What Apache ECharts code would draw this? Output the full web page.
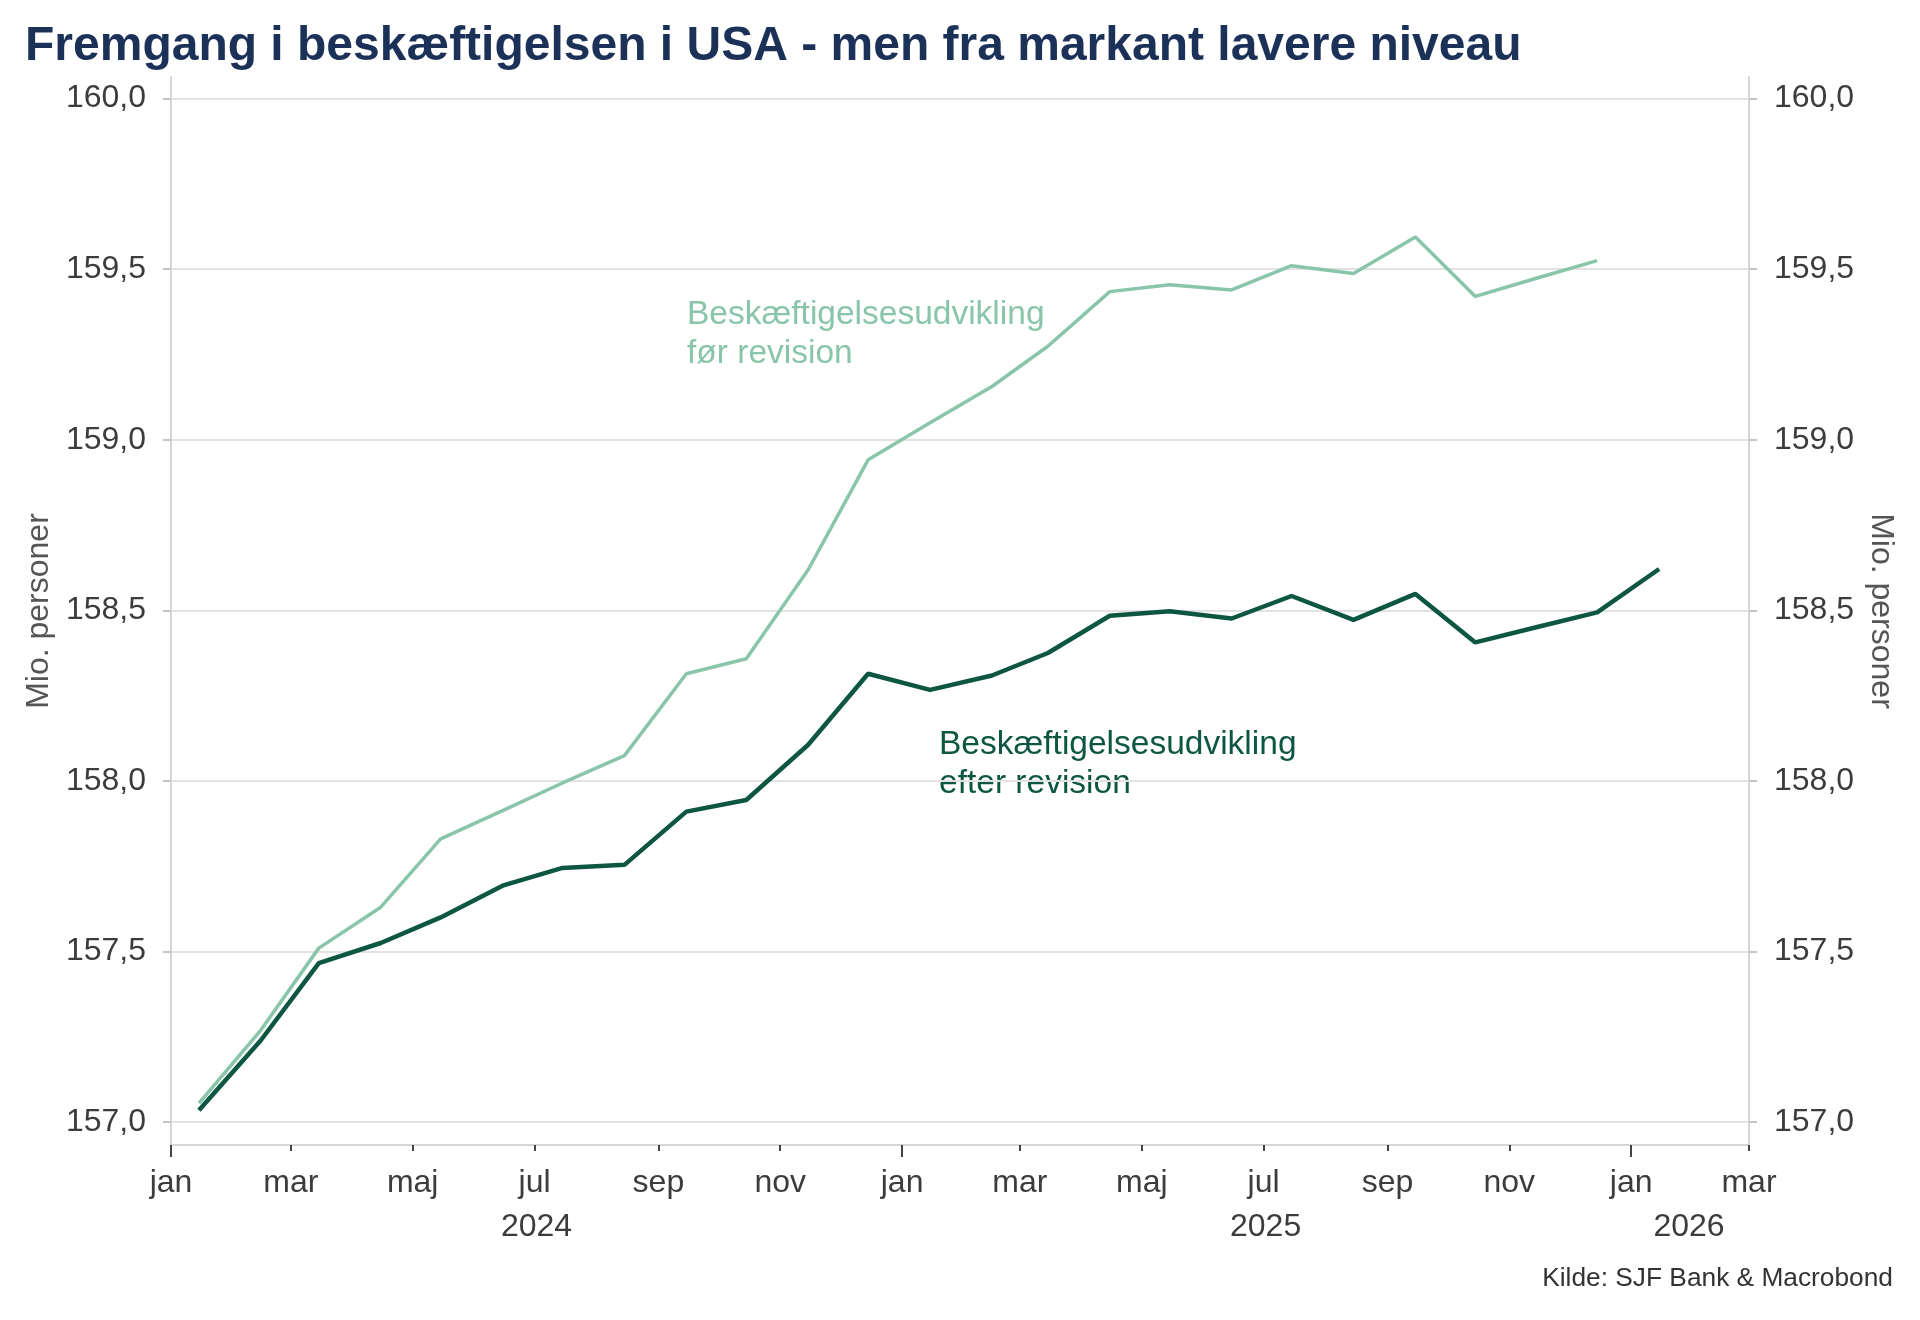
<!DOCTYPE html>
<html>
<head>
<meta charset="utf-8">
<script src="https://cdn.jsdelivr.net/npm/echarts@6/dist/echarts.min.js"></script>
<style>
  html, body { margin: 0; padding: 0; background: #fff; }
  #chart { width: 1920px; height: 1320px; }
</style>
</head>
<body>
<div id="chart"></div>
<script>
// monthly observations, plotted mid-month
const months = [
    '2024-01', '2024-02', '2024-03', '2024-04', '2024-05', '2024-06',
    '2024-07', '2024-08', '2024-09', '2024-10', '2024-11', '2024-12',
    '2025-01', '2025-02', '2025-03', '2025-04', '2025-05', '2025-06',
    '2025-07', '2025-08', '2025-09', '2025-10', '2025-11', '2025-12',
    '2026-01'
];

// Beskæftigelse før revision (mio. personer), Jan 2024 - Dec 2025
const beforeRevision = [
    157.056, 157.27, 157.51, 157.63, 157.83, 157.913,
    157.994, 158.074, 158.314, 158.358, 158.619, 158.941,
    159.05, 159.156, 159.274, 159.434, 159.454, 159.439,
    159.51, 159.487, 159.594, 159.42, 159.474, 159.525
];

// Beskæftigelse efter revision (mio. personer), Jan 2024 - Jan 2026
const afterRevision = [
    157.035, 157.24, 157.466, 157.525, 157.60, 157.693,
    157.745, 157.754, 157.91, 157.944, 158.106, 158.314,
    158.267, 158.309, 158.375, 158.484, 158.497, 158.476,
    158.542, 158.472, 158.548, 158.406, 158.451, 158.494,
    158.621
];

const yTicks = [157, 157.5, 158, 158.5, 159, 159.5, 160];
const monthTicks = [
    '2024-01-01', '2024-03-01', '2024-05-01', '2024-07-01', '2024-09-01', '2024-11-01',
    '2025-01-01', '2025-03-01', '2025-05-01', '2025-07-01', '2025-09-01', '2025-11-01',
    '2026-01-01', '2026-03-01'
];
const yearTicks = ['2024-01-01', '2025-01-01', '2026-01-01'];
const yearLabelAt = ['2024-07-02', '2025-07-02', '2026-01-30'];
const monthNames = ['jan', 'feb', 'mar', 'apr', 'maj', 'jun', 'jul', 'aug', 'sep', 'okt', 'nov', 'dec'];

const FONT = '"Liberation Sans", Arial, sans-serif';
const DARK = '#0d5641';
const LIGHT = '#89c5aa';

function toTs(s) {
    const [y, m, d] = s.split('-').map(Number);
    return Date.UTC(y, m - 1, d || 15);
}

function fmtY(v) {
    return Number(v).toFixed(1).replace('.', ',');
}

const xMin = toTs('2024-01-01');
const xMax = toTs('2026-03-01');

function yAxisFor(side) {
    return {
        type: 'value',
        position: side,
        min: 156.933,
        max: 160.063,
        axisLine: { show: true, lineStyle: { color: '#d6d6d6', width: 2 } },
        axisTick: { show: true, customValues: yTicks, length: 8, lineStyle: { color: '#c4c4c4', width: 2 } },
        axisLabel: {
            customValues: yTicks,
            formatter: fmtY,
            fontSize: 32,
            color: '#3c3c3c',
            fontFamily: FONT,
            margin: 25,
        },
        splitLine: { show: side === 'left', lineStyle: { color: '#e2e2e2', width: 2 } },
        name: 'Mio. personer',
        nameLocation: 'middle',
        nameRotate: side === 'left' ? 90 : -90,
        nameGap: side === 'left' ? 113 : 114,
        nameTextStyle: { fontSize: 32, color: '#555', fontFamily: FONT },
    };
}

// x axes are plain value axes over UTC timestamps
function xAxisFor(tickDates, tickLen, labelDates, fmt, margin, showLine) {
    return {
        type: 'value',
        min: xMin,
        max: xMax,
        position: 'bottom',
        axisLine: { show: showLine, lineStyle: { color: '#d6d6d6', width: 2 } },
        axisTick: { show: true, customValues: tickDates.map(toTs), length: tickLen, lineStyle: { color: '#444', width: 2 } },
        axisLabel: {
            customValues: labelDates.map(toTs),
            formatter: fmt,
            fontSize: 32,
            color: '#3c3c3c',
            fontFamily: FONT,
            margin: margin,
        },
        splitLine: { show: false },
    };
}

const chart = echarts.init(document.getElementById('chart'), null, { renderer: 'canvas' });

chart.setOption({
    animation: false,
    backgroundColor: '#fff',
    title: {
        text: 'Fremgang i beskæftigelsen i USA - men fra markant lavere niveau',
        left: 20,
        top: 18,
        textStyle: { fontSize: 48, fontWeight: 'bold', color: '#1b3158', fontFamily: FONT },
    },
    grid: { left: 171, right: 171, top: 77, bottom: 175, containLabel: false },
    xAxis: [
        xAxisFor(monthTicks, 6, monthTicks, v => monthNames[new Date(v).getUTCMonth()], 22, true),
        xAxisFor(yearTicks, 12, yearLabelAt, v => String(new Date(v).getUTCFullYear()), 66, false),
    ],
    yAxis: [yAxisFor('left'), yAxisFor('right')],
    series: [
        {
            name: 'Beskæftigelsesudvikling før revision',
            type: 'line',
            data: beforeRevision.map((v, i) => [toTs(months[i]), v]),
            showSymbol: false,
            lineStyle: { color: LIGHT, width: 3.5 },
            z: 2,
        },
        {
            name: 'Beskæftigelsesudvikling efter revision',
            type: 'line',
            data: afterRevision.map((v, i) => [toTs(months[i]), v]),
            showSymbol: false,
            lineStyle: { color: DARK, width: 4.5 },
            z: 3,
        },
    ],
    graphic: [
        {
            type: 'text',
            left: 687,
            top: 295,
            style: {
                text: 'Beskæftigelsesudvikling\nfør revision',
                font: `33.5px ${FONT}`,
                fill: LIGHT,
                lineHeight: 39,
            },
        },
        {
            type: 'text',
            left: 939,
            top: 725,
            style: {
                text: 'Beskæftigelsesudvikling\nefter revision',
                font: `33.5px ${FONT}`,
                fill: DARK,
                lineHeight: 39,
            },
        },
        {
            type: 'text',
            right: 27,
            top: 1266,
            style: {
                text: 'Kilde: SJF Bank & Macrobond',
                font: `26.3px ${FONT}`,
                fill: '#333',
            },
        },
    ],
});

window.addEventListener('resize', () => chart.resize());
</script>
</body>
</html>
